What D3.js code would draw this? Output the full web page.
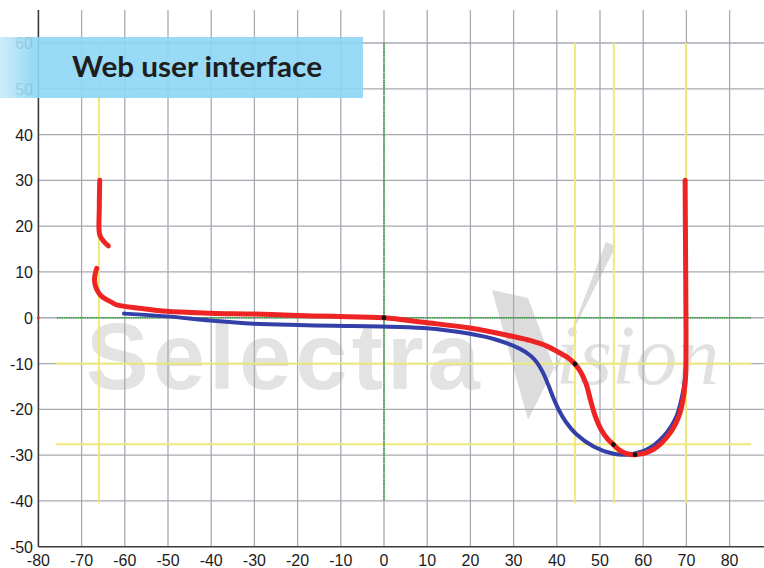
<!DOCTYPE html>
<html>
<head>
<meta charset="utf-8">
<script src="https://cdn.jsdelivr.net/npm/d3@7"></script>
<style>
  body { margin: 0; background: #fff; }
  svg { display: block; }
</style>
</head>
<body>
<div id="div-grafico"></div>
<script>
// x / y ticks
var xTicks = [-80, -70, -60, -50, -40, -30, -20, -10, 0, 10, 20, 30, 40, 50, 60, 70, 80];
var yTicks = [-50, -40, -30, -20, -10, 0, 10, 20, 30, 40, 50, 60];

// red curve, two pieces [x, y]
var redTop = [[-65.8, 30], [-65.9, 24], [-65.8, 18.1], [-64.8, 16.6], [-63.8, 15.7]];
var redMain = [[-66.5, 10.8], [-67, 7.9], [-65.7, 5], [-62.7, 3.2], [-61.9, 2.8], [-56, 2.0],
  [-50.3, 1.4], [-40, 1.0], [-30.3, 0.8], [-20, 0.5], [-11.8, 0.3], [0, 0], [9.1, -1.0],
  [19.9, -2.25], [29.9, -4.1], [34, -5.0], [37.7, -6.2], [40.5, -7.6], [42.5, -8.7],
  [44.2, -10.1], [45.5, -11.8], [46.8, -14.5], [47.8, -18], [48.9, -21.5], [50.3, -24.5],
  [51.8, -26.5], [53.1, -27.7], [54.5, -28.9], [56, -29.6], [58.1, -29.9],
  [62.3, -28.8], [66.2, -25.2], [68.5, -20.8], [69.7, -14.3], [69.9, -7], [69.9, 0],
  [69.8, 15], [69.7, 30]];

// blue curve
var blue = [[-60.2, 0.9], [-50.3, 0.3], [-40.3, -0.6], [-30.2, -1.3], [-20, -1.6], [-11.7, -1.75],
  [-0.9, -1.9], [9.1, -2.25], [19.9, -3.5], [26, -4.8], [31.5, -6.8], [33.8, -8.2], [35.5, -9.9],
  [36.8, -12], [38, -14.6], [39.2, -17.5], [40.5, -20.2], [42, -22.6], [44.6, -25.5],
  [48.5, -28.1], [53.1, -29.7], [56.2, -29.9], [60.8, -28.8], [64.7, -25.9], [67.7, -21.5],
  [69.3, -15.7], [69.9, -11]];

// black markers on the red curve
var markers = [[0, 0], [44.2, -10.1], [53.1, -27.7], [58.1, -29.9]];

// cursor lines
var yellowV = [-66, 44.2, 53.2, 69.9];
var yellowH = [-10, -27.6];

var width = 764, height = 568;

var x = d3.scaleLinear().domain([-80, 80]).range([38.4, 729.6]);
var y = d3.scaleLinear().domain([-50, 60]).range([546.7, 43]);

var svg = d3.select("#div-grafico").append("svg")
  .attr("width", width)
  .attr("height", height);

var xMax = x.invert(width), yTop = y.invert(10);

// watermark (behind grid)
var wm = svg.append("g").attr("class", "watermark");
wm.append("text")
  .attr("x", 86).attr("y", 389)
  .attr("font-family", "Liberation Sans, Arial, sans-serif")
  .attr("font-weight", "bold")
  .attr("font-size", 94)
  .attr("letter-spacing", 4)
  .attr("fill", "#e3e3e3")
  .text("Selectra");
wm.append("path")
  .attr("d", "M492,290 L528,298 L556,372 L606,242 L616,246 L528,420 Z")
  .attr("fill", "#dcdcdc");
wm.append("text")
  .attr("x", 556).attr("y", 384)
  .attr("font-family", "Liberation Serif, Times New Roman, serif")
  .attr("font-style", "italic")
  .attr("font-size", 84)
  .attr("fill", "#e1e1e1")
  .text("ision");

// grid
var grid = svg.append("g").attr("stroke", "#a6aab2").attr("stroke-width", 1.3);
grid.selectAll("line.v").data(xTicks.slice(1)).enter().append("line")
  .attr("x1", function (d) { return x(d); }).attr("x2", function (d) { return x(d); })
  .attr("y1", y(yTop)).attr("y2", y(-50));
grid.selectAll("line.h").data(yTicks.slice(1)).enter().append("line")
  .attr("x1", x(-80)).attr("x2", x(xMax))
  .attr("y1", function (d) { return y(d); }).attr("y2", function (d) { return y(d); });

// yellow cursors
var yl = svg.append("g").attr("stroke", "#eee97a").attr("stroke-width", 2);
yl.selectAll("line.v").data(yellowV).enter().append("line")
  .attr("x1", function (d) { return x(d); }).attr("x2", function (d) { return x(d); })
  .attr("y1", y(60)).attr("y2", y(-40.5));
yl.selectAll("line.h").data(yellowH).enter().append("line")
  .attr("x1", x(-76)).attr("x2", x(85))
  .attr("y1", function (d) { return y(d); }).attr("y2", function (d) { return y(d); });

// green zero lines
var gl = svg.append("g").attr("stroke", "#2e9a3a").attr("stroke-width", 1.6)
  .attr("stroke-dasharray", "1.5 0.8");
gl.append("line").attr("x1", x(0)).attr("x2", x(0)).attr("y1", y(60)).attr("y2", y(-40));
gl.append("line").attr("x1", x(-75.7)).attr("x2", x(85)).attr("y1", y(0)).attr("y2", y(0));

// axes lines
svg.append("line").attr("x1", x(-80)).attr("x2", x(-80)).attr("y1", y(yTop)).attr("y2", y(-50))
  .attr("stroke", "#3a3a3a").attr("stroke-width", 1.6);
svg.append("line").attr("x1", x(-80)).attr("x2", x(xMax)).attr("y1", y(-50)).attr("y2", y(-50))
  .attr("stroke", "#3a3a3a").attr("stroke-width", 1.6);

// tick labels
svg.append("g").selectAll("text").data(yTicks).enter().append("text")
  .attr("x", 33).attr("y", function (d) { return y(d) + 6; })
  .attr("text-anchor", "end")
  .attr("font-family", "Liberation Sans, Arial, sans-serif")
  .attr("font-size", 16).attr("fill", "#1c1c1c")
  .text(function (d) { return d; });
svg.append("g").selectAll("text").data(xTicks).enter().append("text")
  .attr("x", function (d) { return x(d); }).attr("y", 566)
  .attr("text-anchor", "middle")
  .attr("font-family", "Liberation Sans, Arial, sans-serif")
  .attr("font-size", 16).attr("fill", "#1c1c1c")
  .text(function (d) { return d; });

// curves
var line = d3.line()
  .x(function (d) { return x(d[0]); })
  .y(function (d) { return y(d[1]); })
  .curve(d3.curveCatmullRom.alpha(0.5));

svg.append("path").datum(blue)
  .attr("fill", "none").attr("stroke", "#3340a8").attr("stroke-width", 4)
  .attr("stroke-linecap", "round").attr("d", line);

[redTop, redMain].forEach(function (seg) {
  svg.append("path").datum(seg)
    .attr("fill", "none").attr("stroke", "#ee2424").attr("stroke-width", 5)
    .attr("stroke-linecap", "round").attr("stroke-linejoin", "round").attr("d", line);
});

svg.append("g").selectAll("circle").data(markers).enter().append("circle")
  .attr("cx", function (d) { return x(d[0]); })
  .attr("cy", function (d) { return y(d[1]); })
  .attr("r", 2.4).attr("fill", "#111");

// small red tick on the left axis at 0
svg.append("circle").attr("cx", x(-80)).attr("cy", y(0)).attr("r", 1.5).attr("fill", "#e33");

// banner
var defs = svg.append("defs");
var grad = defs.append("linearGradient").attr("id", "bannerGrad");
grad.append("stop").attr("offset", "0%").attr("stop-color", "#c9ebfa");
grad.append("stop").attr("offset", "9%").attr("stop-color", "#8ed6f5");
grad.append("stop").attr("offset", "100%").attr("stop-color", "#8dd5f4");

svg.append("rect")
  .attr("x", 0).attr("y", 37).attr("width", 363).attr("height", 61)
  .attr("fill", "url(#bannerGrad)").attr("fill-opacity", 0.9);
svg.append("text")
  .attr("x", 197).attr("y", 77)
  .attr("text-anchor", "middle")
  .attr("font-family", "Lato, Noto Sans, sans-serif")
  .attr("font-weight", "bold")
  .attr("font-size", 29)
  .attr("textLength", 250).attr("lengthAdjust", "spacingAndGlyphs")
  .attr("fill", "#1e1e1e")
  .text("Web user interface");
</script>
</body>
</html>
